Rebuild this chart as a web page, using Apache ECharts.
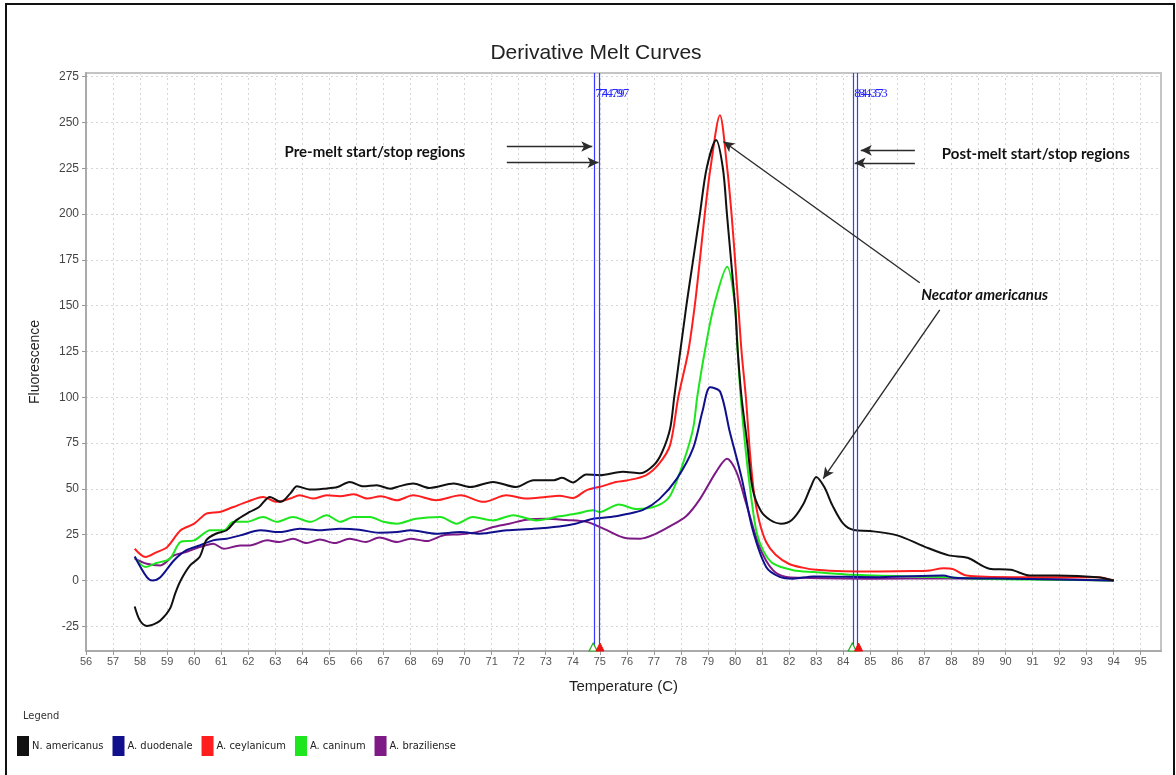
<!DOCTYPE html>
<html>
<head>
<meta charset="utf-8">
<title>Derivative Melt Curves</title>
<script src="https://cdn.jsdelivr.net/npm/echarts@6/dist/echarts.min.js"></script>
<style>
  html, body { margin: 0; padding: 0; background: #fff; }
  #main { position: absolute; left: 0; top: 0; width: 1176px; height: 775px; }
  .frame { position: absolute; left: 5px; top: 3px; width: 1166px; height: 790px; border: 2px solid #111; pointer-events: none; }
</style>
</head>
<body>
<div id="main"></div>
<div class="frame"></div>
<script>
// temperature (C) / -d(F)/dT pairs
const nAmericanus = [[57.8,-14.2],[58.0,-22],[58.25,-24.8],[58.5,-24],[58.75,-21.9],[59.1,-15.5],[59.3,-7],[59.5,0],[59.85,8.2],[60.2,12.8],[60.45,22],[60.8,25.5],[61.2,27.4],[61.55,32.8],[62.05,37.4],[62.4,40.1],[62.8,45.6],[63.2,42.9],[63.55,47.4],[63.8,51.4],[64.3,49.6],[64.8,50.1],[65.3,51],[65.75,53.8],[66.25,51.4],[66.75,52],[67.25,50.1],[67.6,51.5],[68.1,52.9],[68.7,50.5],[69.6,52.9],[70.2,51],[71.05,53.8],[71.9,51],[72.55,54.7],[73.3,54.7],[73.6,56],[74.0,53.5],[74.5,57.9],[75.0,57.4],[75.85,59.3],[76.5,58.5],[77.0,63],[77.3,70],[77.6,83],[77.75,100],[78.2,150],[78.45,175],[78.7,200],[78.95,225],[79.3,240.4],[79.55,225],[79.7,200],[79.85,175],[80.0,150],[80.1,125],[80.24,100],[80.45,75],[80.65,50],[80.95,38],[81.3,33],[81.7,31],[82.1,33],[82.5,41],[82.8,51],[83.0,56.5],[83.3,51],[83.6,41],[84.0,31],[84.4,27.5],[85.0,27],[86.0,24.6],[87.0,18.5],[87.9,13.7],[88.6,12.4],[89.4,6.4],[90.2,5.8],[90.9,2.7],[91.9,2.7],[93.4,1.8],[94.0,0]];
const aDuodenale = [[57.8,13.1],[58.25,1.8],[58.45,0],[58.75,1.8],[59.25,10.9],[59.7,16.4],[60.2,19.1],[60.7,21.9],[61.2,22.8],[61.7,24.6],[62.45,27.4],[63.15,26.4],[63.9,28.2],[64.65,27.4],[65.4,28.2],[66.1,27.7],[66.85,26],[67.5,26.4],[68.0,27.4],[68.95,25.5],[69.85,26.4],[70.55,25.5],[71.55,27.4],[72.55,28.2],[73.5,29.5],[74.1,31],[74.75,33.7],[75.4,34.6],[76.0,36.3],[76.6,38.5],[77.2,44.4],[77.85,55.6],[78.45,72.2],[78.8,92.6],[79.08,105.4],[79.45,103],[79.8,81.5],[80.25,55.6],[80.65,27.8],[81.15,7.4],[81.65,2],[82.15,1],[82.9,2.2],[85.35,1.8],[87.7,2.7],[88.1,1.5],[90.3,0.9],[94.0,0]];
const aCeylanicum = [[57.8,17.3],[58.2,12.8],[58.6,15.3],[59.0,18.2],[59.5,27.4],[60.0,31],[60.45,36.5],[60.95,37.4],[61.45,40.1],[61.95,42.9],[62.55,45.6],[63.05,42.9],[63.55,44.7],[63.9,46.5],[64.4,44.7],[64.9,46.5],[65.4,46],[65.9,47.1],[66.4,44.7],[66.9,46],[67.5,43.8],[68.1,46.5],[68.95,43.8],[69.85,46.5],[70.7,42.9],[71.55,46.5],[72.3,44.7],[73.0,45.6],[73.5,46.3],[74.0,45],[74.5,49.2],[75.1,51.5],[75.6,53.8],[76.0,54.6],[76.7,57.4],[77.2,63.9],[77.6,74],[77.9,100],[78.27,125],[78.51,150],[78.7,175],[78.88,200],[79.09,225],[79.44,253.9],[79.71,225],[79.87,200],[80.0,175],[80.12,150],[80.24,125],[80.4,100],[80.55,70],[80.7,48],[80.9,32],[81.15,21],[81.5,14],[82.0,9],[82.5,7],[83.0,5.8],[84.0,5],[85.35,4.9],[86.6,5.1],[87.2,5.5],[87.7,6.7],[88.06,6.2],[88.56,2.7],[90.3,1.8],[92.1,1.8],[93.4,1.8],[94.0,0]];
const aCaninum = [[57.8,12.8],[58.2,7.3],[58.6,9.5],[59.1,11.9],[59.5,21],[60.0,21.9],[60.6,27.4],[61.1,27.4],[61.45,32],[61.95,32],[62.55,34.6],[63.05,32],[63.65,34.6],[64.3,32],[64.9,35.6],[65.4,32],[65.9,34.6],[66.5,34.6],[67.0,32],[67.5,31],[68.2,33.7],[69.1,34.6],[69.7,31],[70.3,34.6],[71.05,32.8],[71.8,35.6],[72.65,32.8],[73.5,35],[74.15,36.5],[74.75,38.3],[75.0,37.4],[75.7,41.5],[76.35,39],[77.1,40.7],[77.6,46.3],[78.1,65],[78.45,83],[78.6,100],[78.88,125],[79.22,150],[79.71,171.3],[80.0,150],[80.1,125],[80.21,100],[80.4,70],[80.6,45],[80.8,26],[81.05,16],[81.4,9.3],[82.15,5.6],[82.9,4.6],[84.1,3.3],[86.6,2.2],[87.8,1.8],[89.0,0.9],[91.5,0.4],[94.0,0]];
const aBraziliense = [[57.8,11.9],[58.25,9.1],[58.75,8.2],[59.25,13.7],[59.7,15.5],[60.2,18.2],[60.7,20.1],[61.1,17.3],[61.7,19.1],[62.05,19.1],[62.7,21.9],[63.15,21],[63.65,22.8],[64.15,20.4],[64.65,22.3],[65.2,20.4],[65.75,22.8],[66.35,21],[66.85,23.5],[67.5,21],[68.0,22.8],[68.6,21.5],[69.2,24.6],[69.85,25.2],[70.45,26.4],[71.05,29.2],[71.65,31],[72.3,33.2],[73.0,33.7],[73.75,33],[74.5,32],[75.15,28.2],[76.0,23],[76.5,22.8],[77.0,25],[77.6,29.6],[78.2,35.2],[78.7,44.4],[79.3,59.3],[79.7,66.5],[80.05,59.3],[80.4,42.6],[80.9,18.5],[81.4,5.6],[81.9,1.9],[82.4,1.5],[85.0,1],[88.0,1.2],[91.0,0.8],[94.0,0]];

const seriesNames = ['N. americanus', 'A. duodenale', 'A. ceylanicum', 'A. caninum', 'A. braziliense'];
const seriesColors = ['#111111', '#10108c', '#ff1e1e', '#1ee61e', '#7d1a85'];
const seriesData = [nAmericanus, aDuodenale, aCeylanicum, aCaninum, aBraziliense];

const xTicks = [56,57,58,59,60,61,62,63,64,65,66,67,68,69,70,71,72,73,74,75,76,77,78,79,80,81,82,83,84,85,86,87,88,89,90,91,92,93,94,95];
const yTicks = [-25,0,25,50,75,100,125,150,175,200,225,250,275];
const xRange = [56, 95.75];
const yRange = [-38.5, 277];

// melt region bars: pre-melt start/stop, post-melt start/stop
const preMelt = [74.79, 74.97];
const postMelt = [84.37, 84.53];

// annotation arrows [from, to] in data units
const preArrows = [[[71.56, 236.9], [74.72, 236.9]], [[71.56, 228.1], [74.95, 228.1]]];
const postArrows = [[[86.65, 234.8], [84.65, 234.8]], [[86.65, 227.9], [84.42, 227.9]]];
const necatorArrows = [[[86.83, 162.5], [79.57, 239.6]], [[87.57, 147.7], [83.26, 55.6]]];

const narrowFont = "'DejaVu Sans Condensed', 'Liberation Sans Narrow', 'Liberation Sans', sans-serif";

const chart = echarts.init(document.getElementById('main'));

const curveSeries = seriesNames.map(function (name, i) {
  return {
    name: name,
    type: 'line',
    data: seriesData[i],
    smooth: 0.3,
    showSymbol: false,
    symbol: 'none',
    z: 3,
    lineStyle: { color: seriesColors[i], width: 2 },
    itemStyle: { color: seriesColors[i] }
  };
});

const regionLines = preMelt.concat(postMelt);

const regionSeries = {
  name: 'regions',
  type: 'line',
  data: [],
  z: 2,
  markLine: {
    silent: true,
    symbol: 'none',
    label: { show: false },
    lineStyle: { color: '#3a3aff', width: 1.2, type: 'solid' },
    data: regionLines.map(function (v) { return { xAxis: v }; })
  },
  markPoint: {
    silent: true,
    data: regionLines.map(function (v) {
      return {
        coord: [v, 266],
        symbolSize: 0,
        label: {
          show: true, position: 'right', distance: 1,
          formatter: v.toFixed(2),
          fontFamily: 'Liberation Serif', fontSize: 13, color: '#2a2aff'
        }
      };
    }).concat(regionLines.map(function (v, i) {
      const start = i % 2 === 0;
      return {
        coord: [v, yRange[0]],
        symbol: 'triangle',
        symbolSize: [8, 8],
        symbolOffset: [start ? -1 : 1, -4],
        itemStyle: start
          ? { color: '#ffffff', borderColor: '#22aa22', borderWidth: 1.2 }
          : { color: '#ee1111', borderColor: '#ee1111', borderWidth: 1 },
        label: { show: false }
      };
    }))
  }
};

function arrowData(list) {
  return list.map(function (a) {
    return [{ coord: a[0] }, { coord: a[1] }];
  });
}

const noteFont = { fontFamily: 'Lato', fontWeight: 'bold', fontSize: 15, color: '#111' };

const noteSeries = {
  name: 'notes',
  type: 'line',
  data: [],
  z: 4,
  markLine: {
    silent: true,
    symbol: ['none', 'arrow'],
    symbolSize: [8, 11],
    label: { show: false },
    lineStyle: { color: '#2b2b2b', width: 1.4, type: 'solid' },
    data: arrowData(preArrows).concat(arrowData(postArrows), arrowData(necatorArrows))
  },
  markPoint: {
    silent: true,
    symbolSize: 0,
    data: [
      { coord: [66.68, 233.6], label: Object.assign({ show: true, position: 'inside', formatter: 'Pre-melt start/stop regions' }, noteFont) },
      { coord: [91.12, 232.5], label: Object.assign({ show: true, position: 'inside', formatter: 'Post-melt start/stop regions' }, noteFont) },
      { coord: [89.23, 155.5], label: Object.assign({ show: true, position: 'inside', formatter: 'Necator americanus', fontStyle: 'italic' }, noteFont) }
    ]
  }
};

const option = {
  animation: false,
  backgroundColor: '#fff',
  title: [
    {
      text: 'Derivative Melt Curves',
      left: 591, top: 38, textAlign: 'center',
      textStyle: { fontFamily: 'Liberation Sans', fontSize: 21, fontWeight: 'normal', color: '#222' }
    },
    {
      text: 'Legend',
      left: 18, top: 706,
      textStyle: { fontFamily: narrowFont, fontSize: 11, fontWeight: 'normal', color: '#333' }
    }
  ],
  legend: {
    data: seriesNames,
    left: 12, top: 731,
    icon: 'rect',
    itemWidth: 12, itemHeight: 20, itemGap: 9,
    textStyle: { fontFamily: narrowFont, fontSize: 11, color: '#222', padding: [0, 0, 0, -2] }
  },
  grid: {
    left: 86, right: 15, top: 73, bottom: 124,
    show: true, borderColor: '#c4c4c4', borderWidth: 2
  },
  xAxis: {
    type: 'value',
    min: xRange[0], max: xRange[1],
    name: 'Temperature (C)',
    nameLocation: 'middle', nameGap: 28,
    nameTextStyle: { fontFamily: 'Liberation Sans', fontSize: 15, color: '#222' },
    axisLine: { show: true, onZero: false, lineStyle: { color: '#aaa', width: 2 } },
    axisTick: { show: true, length: 4, customValues: xTicks, lineStyle: { color: '#999' } },
    axisLabel: { customValues: xTicks, fontFamily: 'Liberation Sans', fontSize: 11, color: '#555', margin: 5 },
    splitLine: { show: true, lineStyle: { color: '#d6d6d6', type: [2, 3], width: 1 } }
  },
  yAxis: {
    type: 'value',
    min: yRange[0], max: yRange[1],
    name: 'Fluorescence',
    nameLocation: 'middle', nameGap: 44,
    nameTextStyle: { fontFamily: 'Liberation Sans', fontSize: 14, color: '#222' },
    axisLine: { show: true, lineStyle: { color: '#aaa', width: 2 } },
    axisTick: { show: true, length: 4, customValues: yTicks, lineStyle: { color: '#999' } },
    axisLabel: { customValues: yTicks, fontFamily: 'Liberation Sans', fontSize: 12, color: '#444', margin: 7 },
    splitLine: { show: true, lineStyle: { color: '#d6d6d6', type: [2, 3], width: 1 } }
  },
  series: [regionSeries].concat(curveSeries.slice().reverse(), [noteSeries])
};

chart.setOption(option);
</script>
</body>
</html>
